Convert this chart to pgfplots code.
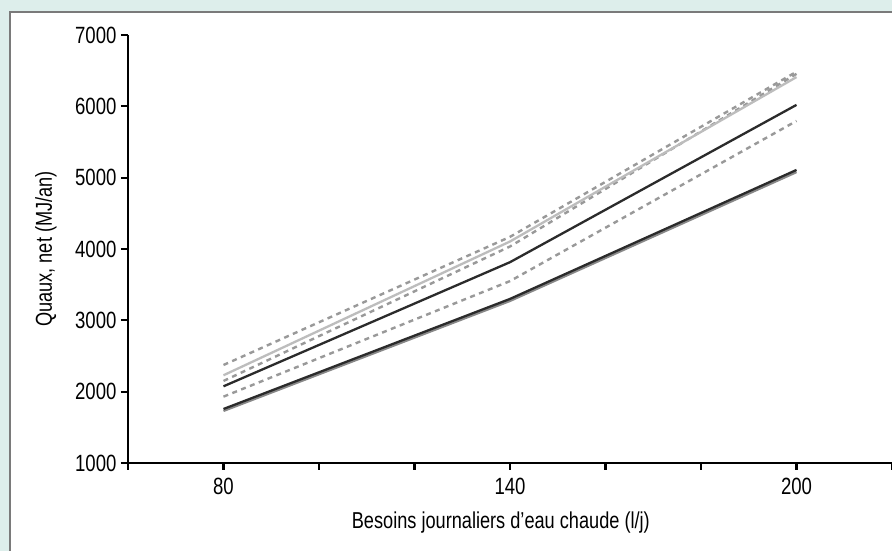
\documentclass[border=0pt]{standalone}
\usepackage{pgfplots}
\pgfplotsset{compat=1.18}
\usepackage{fontspec}
\setmainfont{Liberation Sans}[FakeStretch=0.79]
\definecolor{bgteal}{HTML}{DDEEEB}
\definecolor{panelline}{HTML}{7A7A7A}
\definecolor{dashgray}{HTML}{999999}
\definecolor{lightline}{HTML}{BDBDBD}
\definecolor{darkline}{HTML}{2B2B2B}
\definecolor{midline}{HTML}{888888}
\begin{document}
\begin{tikzpicture}
\path[use as bounding box] (0pt,0pt) rectangle (892pt,551pt);
\fill[bgteal] (-2pt,-2pt) rectangle (894pt,553pt);
\draw[panelline, fill=white, line width=1.2pt] (10pt,-10pt) rectangle (910pt,539pt);
\begin{axis}[
  at={(128pt,88pt)}, anchor=south west,
  scale only axis, width=764pt, height=428pt,
  xmin=60, xmax=220, ymin=1000, ymax=7000,
  xtick={60,80,...,220},
  xticklabels={,80,,,140,,,200,},
  ytick={1000,2000,...,7000},
  axis x line=bottom, axis y line=left,
  axis line style={-, line width=2.8pt},
  tick align=outside,
  major tick length=7pt,
  tick style={black, line width=2.2pt},
  /pgf/number format/assume math mode=true,
  /pgf/number format/set thousands separator={},
  tick label style={font=\fontsize{23.5}{27}\selectfont},
  xticklabel style={anchor=center, yshift=-16pt},
  yticklabel style={anchor=east, xshift=-1pt},
  label style={font=\fontsize{23}{27}\selectfont},
  xlabel={Besoins journaliers d'eau chaude (l/j)},
  ylabel={Quaux, net (MJ/an)},
  xlabel style={at={(axis description cs:0.488,-0.140)}, anchor=center},
  ylabel style={at={(axis description cs:-0.1073,0.5)}, anchor=center},
  clip=false,
]
\addplot[dashgray, line width=2.4pt, dash pattern=on 5pt off 4.5pt] coordinates {(80,2374) (140,4170) (200,6485)};
\addplot[dashgray, line width=2.4pt, dash pattern=on 5pt off 4.5pt] coordinates {(80,2150) (140,4035) (200,6455)};
\addplot[lightline, line width=2.3pt] coordinates {(80,2230) (140,4105) (200,6410)};
\addplot[darkline, line width=2.3pt] coordinates {(80,2075) (140,3815) (200,6020)};
\addplot[dashgray, line width=2.4pt, dash pattern=on 5pt off 4.5pt] coordinates {(80,1930) (140,3550) (200,5795)};
\addplot[midline, line width=2.3pt] coordinates {(80,1730) (140,3272) (200,5078)};
\addplot[darkline, line width=2.3pt] coordinates {(80,1757) (140,3300) (200,5108)};
\end{axis}
\end{tikzpicture}
\end{document}
